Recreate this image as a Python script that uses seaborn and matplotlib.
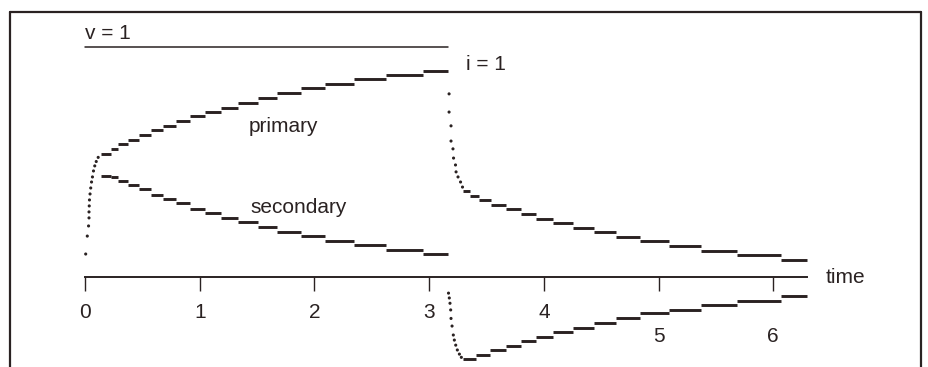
import numpy as np
import pandas as pd
import seaborn as sns
import matplotlib.pyplot as plt
from matplotlib.lines import Line2D

# ---- data (time units, current/voltage units where v = 1) ----
pulse_end = 3.165
v_level = 1.0

# rising transient right after switch-on (shared by both windings at first)
rise_t = [0.006, 0.020, 0.031, 0.035, 0.035, 0.037, 0.039, 0.044, 0.050, 0.057,
          0.065, 0.074, 0.085, 0.098, 0.115]
rise_v = [0.100, 0.178, 0.222, 0.257, 0.283, 0.309, 0.335, 0.361, 0.387, 0.413,
          0.435, 0.461, 0.483, 0.502, 0.520]

# step boundaries while the pulse is on
on_steps = [0.139, 0.227, 0.288, 0.375, 0.471, 0.575, 0.680, 0.793, 0.915, 1.046,
            1.186, 1.334, 1.508, 1.674, 1.883, 2.092, 2.345, 2.624, 2.947, 3.165]
primary_on = [0.535, 0.557, 0.578, 0.596, 0.617, 0.639, 0.657, 0.678, 0.700, 0.717,
              0.735, 0.757, 0.780, 0.799, 0.820, 0.839, 0.861, 0.878, 0.897]
secondary_on = [0.441, 0.435, 0.417, 0.400, 0.381, 0.357, 0.338, 0.320, 0.296, 0.277,
                0.258, 0.238, 0.219, 0.197, 0.178, 0.158, 0.139, 0.117, 0.099]

# fast transients right after switch-off
fall_t = [3.174, 3.174, 3.191, 3.191, 3.208, 3.213, 3.230, 3.235, 3.252, 3.274, 3.291]
fall_v = [0.796, 0.717, 0.657, 0.591, 0.557, 0.517, 0.487, 0.457, 0.435, 0.413, 0.391]
dip_t = [3.169, 3.176, 3.182, 3.188, 3.191, 3.200, 3.211, 3.220, 3.232, 3.246, 3.264, 3.281]
dip_v = [-0.070, -0.091, -0.114, -0.143, -0.180, -0.213, -0.252, -0.274, -0.296,
         -0.317, -0.335, -0.349]

# decay after switch-off
upper_steps = [3.296, 3.357, 3.435, 3.540, 3.670, 3.801, 3.932, 4.080, 4.255, 4.438,
               4.629, 4.839, 5.092, 5.370, 5.684, 6.068, 6.295]
upper_off = [0.375, 0.353, 0.335, 0.313, 0.294, 0.274, 0.253, 0.235, 0.214, 0.194,
             0.176, 0.157, 0.135, 0.114, 0.094, 0.075]
lower_steps = [3.296, 3.409, 3.531, 3.670, 3.801, 3.932, 4.080, 4.255, 4.438, 4.629,
               4.839, 5.092, 5.370, 5.684, 6.068, 6.295]
lower_off = [-0.358, -0.339, -0.317, -0.299, -0.278, -0.260, -0.240, -0.220, -0.201,
             -0.180, -0.158, -0.143, -0.122, -0.103, -0.081]

time_ticks = [0, 1, 2, 3, 4, 5, 6]
axis_end = 6.295

INK = '#2a2222'


def step_rows(bounds, values, tag):
    rows = []
    for k, val in enumerate(values):
        rows.append({'t': bounds[k], 'val': val, 'seg': f'{tag}{k}'})
        rows.append({'t': bounds[k + 1], 'val': val, 'seg': f'{tag}{k}'})
    return rows


segs = pd.DataFrame(step_rows(on_steps, primary_on, 'p')
                    + step_rows(on_steps, secondary_on, 's')
                    + step_rows(upper_steps, upper_off, 'u')
                    + step_rows(lower_steps, lower_off, 'l'))
dots = pd.DataFrame({'t': rise_t + fall_t + dip_t, 'val': rise_v + fall_v + dip_v})

sns.set_style('white')
plt.rcParams['font.family'] = ['Liberation Sans', 'DejaVu Sans']

fig = plt.figure(figsize=(9.29, 3.67), dpi=100)
ax = fig.add_axes([0, 0, 1, 1])
ax.patch.set_alpha(0)

sns.lineplot(data=segs, x='t', y='val', units='seg', estimator=None, sort=False,
             color=INK, lw=2.1, solid_capstyle='butt', ax=ax)
sns.scatterplot(data=dots, x='t', y='val', color=INK, s=5, edgecolor='none', ax=ax)

# applied voltage pulse
sns.lineplot(x=[0, pulse_end], y=[v_level, v_level], color=INK, lw=1.1, ax=ax)

ax.set_xlim(-0.741, 7.358)
ax.set_ylim(-0.391, 1.204)

for side in ['left', 'top', 'right']:
    ax.spines[side].set_visible(False)
ax.spines['bottom'].set_position(('data', 0))
ax.spines['bottom'].set_bounds(0, axis_end)
ax.spines['bottom'].set_color(INK)
ax.spines['bottom'].set_linewidth(1.4)
ax.set_yticks([])
ax.set_xticks(time_ticks)
ax.set_xticklabels([str(t) for t in time_ticks])
ax.tick_params(axis='x', direction='out', length=10, width=1.0, color=INK,
               labelsize=15, labelcolor=INK, pad=8.5, bottom=True)
for tk in ax.xaxis.get_major_ticks()[5:]:
    tk.set_pad(26)
ax.set_xlabel('')
ax.set_ylabel('')

ax.text(0, 1.035, 'v = 1', fontsize=15, color=INK, va='baseline')
ax.text(3.322, 0.90, 'i = 1', fontsize=15, color=INK, va='baseline')
ax.text(1.430, 0.632, 'primary', fontsize=15, color=INK, va='baseline')
ax.text(1.439, 0.278, 'secondary', fontsize=15, color=INK, va='baseline')
ax.text(6.460, -0.026, 'time', fontsize=15, color=INK, va='baseline')

# frame around the figure (bottom edge is cut off in the scan)
L, T, R = 10 / 929, 1 - 12 / 367, 921 / 929
for xs, ys in [([L, L], [0, T]), ([L, R], [T, T]), ([R, R], [T, 0])]:
    fig.add_artist(Line2D(xs, ys, color=INK, lw=1.6, transform=fig.transFigure))

fig.savefig('out.png', dpi=100, facecolor='white')
